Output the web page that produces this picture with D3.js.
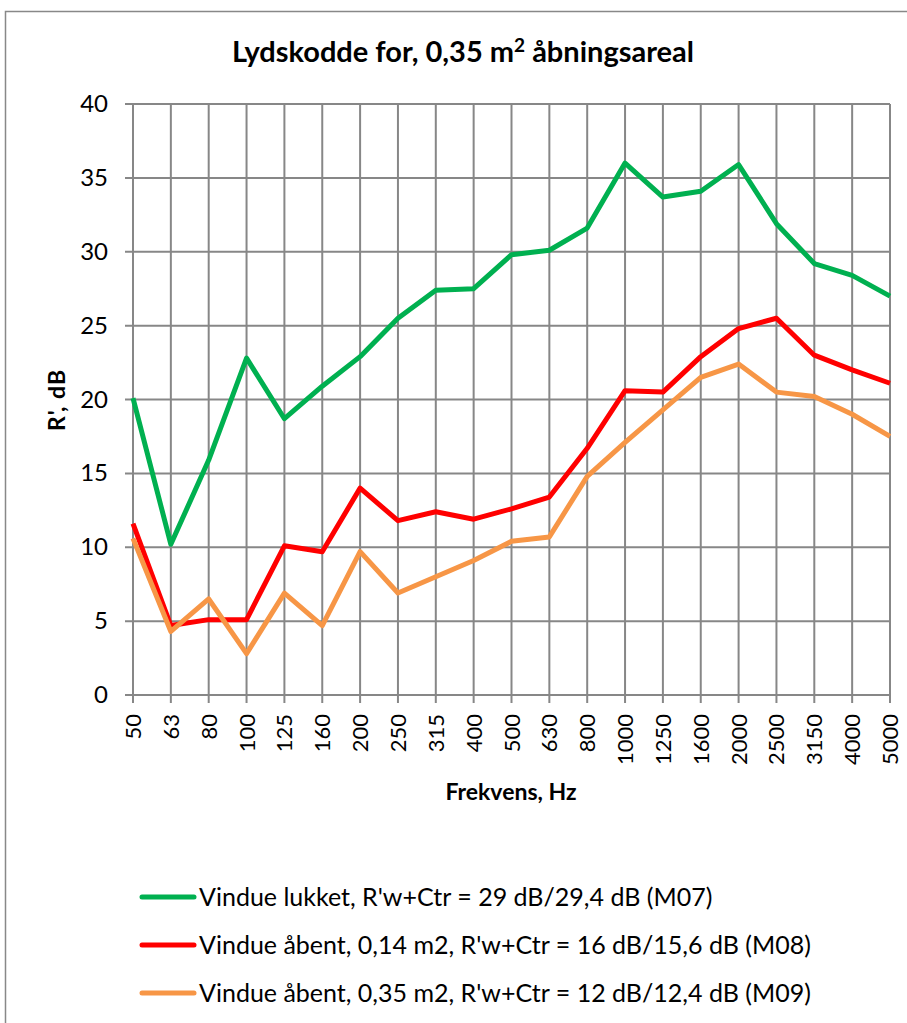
<!DOCTYPE html>
<html>
<head>
<meta charset="utf-8">
<script src="https://cdn.jsdelivr.net/npm/d3@7"></script>
<style>
body { margin: 0; background: #fff; }
svg text { fill: #000; }
</style>
</head>
<body>
<svg id="chart" width="907" height="1023"></svg>
<script>
// frekvenser (Hz)
var freqs = ['50','63','80','100','125','160','200','250','315','400','500','630','800','1000','1250','1600','2000','2500','3150','4000','5000']
var yTicks = [0,5,10,15,20,25,30,35,40]
// R', dB per serie
var lukket = [20.1,10.2,15.9,22.8,18.7,20.9,22.9,25.5,27.4,27.5,29.8,30.1,31.6,36.0,33.7,34.1,35.9,31.9,29.2,28.4,27.0]
var aabent014 = [11.6,4.7,5.1,5.1,10.1,9.7,14.0,11.8,12.4,11.9,12.6,13.4,16.7,20.6,20.5,22.9,24.8,25.5,23.0,22.0,21.1]
var aabent035 = [10.6,4.3,6.5,2.8,6.9,4.7,9.7,6.9,8.0,9.1,10.4,10.7,14.8,17.1,19.3,21.5,22.4,20.5,20.2,19.0,17.5]
var seriesNames = [
	"Vindue lukket, R'w+Ctr = 29 dB/29,4 dB (M07)",
	"Vindue åbent, 0,14 m2, R'w+Ctr = 16 dB/15,6 dB (M08)",
	"Vindue åbent, 0,35 m2, R'w+Ctr = 12 dB/12,4 dB (M09)"
]
var seriesColors = ['#00b050', '#ff0000', '#f79646']

var svg = d3.select('#chart')
var plotLeft = 133, plotRight = 890, plotTop = 104, plotBottom = 695
var font = 'Lato, "Open Sans", sans-serif'

// ramme
svg.append('rect').attr('x', 5.5).attr('y', 11.5).attr('width', 920).attr('height', 1030)
	.attr('fill', 'none').attr('stroke', '#888').attr('stroke-width', 1.5)

var x = d3.scalePoint().domain(freqs).range([plotLeft, plotRight])
var y = d3.scaleLinear().domain([0, 40]).range([plotBottom, plotTop])

// gitter
svg.append('g').selectAll('line').data(yTicks).enter().append('line')
	.attr('x1', plotLeft - 8).attr('x2', plotRight)
	.attr('y1', function(d){return y(d)}).attr('y2', function(d){return y(d)})
	.attr('stroke', '#878787').attr('stroke-width', 2)
svg.append('g').selectAll('line').data(freqs).enter().append('line')
	.attr('x1', function(d){return x(d)}).attr('x2', function(d){return x(d)})
	.attr('y1', plotTop).attr('y2', plotBottom + 8)
	.attr('stroke', '#878787').attr('stroke-width', 2)

// y akse labels
svg.append('g').selectAll('text').data(yTicks).enter().append('text')
	.attr('x', 108).attr('y', function(d){return y(d) + 8})
	.attr('text-anchor', 'end')
	.style('font-family', font).style('font-size', '24px')
	.text(function(d){return d})

// x akse labels (lodrette)
svg.append('g').selectAll('text').data(freqs).enter().append('text')
	.attr('transform', function(d){return 'translate(' + (x(d) + 8) + ',' + 714 + ') rotate(-90)'})
	.attr('text-anchor', 'end')
	.style('font-family', font).style('font-size', '22px')
	.text(function(d){return d})

// titel
var title = svg.append('text').attr('x', 463).attr('y', 62).attr('text-anchor', 'middle')
	.style('font-family', font).style('font-size', '29px').style('font-weight', 'bold')
title.append('tspan').text('Lydskodde for, 0,35 m')
title.append('tspan').attr('dy', -10).style('font-size', '19px').text('2')
title.append('tspan').attr('dy', 10).text(' åbningsareal')

// akse titler
svg.append('text').attr('x', 511).attr('y', 800).attr('text-anchor', 'middle')
	.style('font-family', font).style('font-size', '23px').style('font-weight', 'bold')
	.text('Frekvens, Hz')
svg.append('text').attr('transform', 'translate(65,' + 400 + ') rotate(-90)')
	.attr('text-anchor', 'middle')
	.style('font-family', font).style('font-size', '23px').style('font-weight', 'bold')
	.style('letter-spacing', '1px')
	.text("R', dB")

// kurver
var line = d3.line()
	.x(function(d, i){return x(freqs[i])})
	.y(function(d){return y(d)})
var allSeries = [lukket, aabent014, aabent035]
svg.append('g').selectAll('path').data(allSeries).enter().append('path')
	.attr('d', line)
	.attr('fill', 'none')
	.attr('stroke', function(d, i){return seriesColors[i]})
	.attr('stroke-width', 5)
	.attr('stroke-linejoin', 'round')

// legende
var leg = svg.append('g').selectAll('g').data(seriesNames).enter().append('g')
	.attr('transform', function(d, i){return 'translate(0,' + (897 + i * 48) + ')'})
leg.append('line').attr('x1', 142).attr('x2', 194).attr('y1', 0).attr('y2', 0)
	.attr('stroke', function(d, i){return seriesColors[i]}).attr('stroke-width', 5)
	.attr('stroke-linecap', 'round')
leg.append('text').attr('x', 199).attr('y', 9)
	.style('font-family', font).style('font-size', '25px')
	.text(function(d){return d})
</script>
</body>
</html>
